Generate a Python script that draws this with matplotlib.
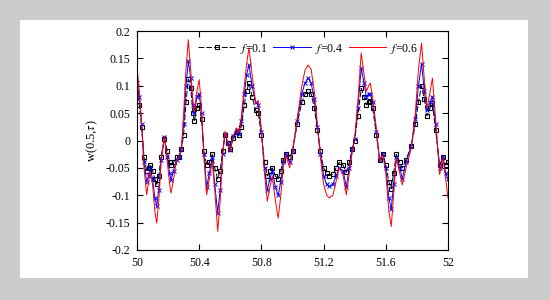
import matplotlib
matplotlib.use("Agg")
import matplotlib.pyplot as plt
from matplotlib.patches import Rectangle
import numpy as np

plt.rcParams['font.family'] = ['Liberation Serif', 'DejaVu Serif']
plt.rcParams['mathtext.fontset'] = 'stix'

# time axis and response w(0.5, tau) for three values of f
tau = [50.000, 50.015, 50.030, 50.045, 50.062, 50.075, 50.084, 50.100, 50.115, 50.127,
       50.140, 50.155, 50.176, 50.195, 50.210, 50.219, 50.235, 50.255, 50.270, 50.285,
       50.300, 50.315, 50.330, 50.345, 50.360, 50.369, 50.385, 50.400, 50.415, 50.430,
       50.448, 50.465, 50.484, 50.500, 50.519, 50.535, 50.550, 50.566, 50.583, 50.598,
       50.620, 50.641, 50.656, 50.670, 50.690, 50.705, 50.720, 50.740, 50.763, 50.780,
       50.800, 50.820, 50.838, 50.855, 50.870, 50.890, 50.908, 50.925, 50.940, 50.956,
       50.982, 51.000, 51.030, 51.060, 51.080, 51.100, 51.120, 51.140, 51.160, 51.180,
       51.200, 51.220, 51.235, 51.260, 51.280, 51.300, 51.325, 51.346, 51.365, 51.385,
       51.400, 51.420, 51.442, 51.460, 51.475, 51.490, 51.500, 51.515, 51.540, 51.560,
       51.582, 51.600, 51.620, 51.635, 51.650, 51.668, 51.690, 51.706, 51.730, 51.764,
       51.790, 51.810, 51.830, 51.848, 51.865, 51.885, 51.900, 51.920, 51.946, 51.968,
       51.985, 52.000]

w_f06 = [0.135, 0.09, 0.029, -0.05, -0.099, -0.075, -0.056, -0.08, -0.13, -0.151,
         -0.11, -0.04, 0.008, -0.04, -0.08, -0.096, -0.07, -0.035, -0.03, -0.02,
         0.05, 0.13, 0.184, 0.13, 0.07, 0.053, 0.09, 0.111, 0.06, -0.03,
         -0.099, -0.07, -0.038, -0.09, -0.166, -0.11, -0.03, 0.017, -0.005, -0.02,
         0.01, 0.023, 0.014, 0.04, 0.10, 0.14, 0.169, 0.12, 0.068, 0.072,
         0.02, -0.06, -0.111, -0.085, -0.065, -0.11, -0.142, -0.10, -0.05, -0.026,
         -0.05, -0.02, 0.04, 0.10, 0.128, 0.138, 0.13, 0.09, 0.03, -0.032,
         -0.08, -0.10, -0.105, -0.10, -0.075, -0.05, -0.062, -0.099, -0.06, -0.02,
         0.004, 0.07, 0.16, 0.12, 0.09, 0.10, 0.105, 0.08, 0.02, -0.038,
         -0.026, -0.06, -0.13, -0.157, -0.10, -0.032, -0.06, -0.081, -0.05, -0.014,
         0.05, 0.13, 0.178, 0.11, 0.059, 0.09, 0.114, 0.04, -0.062, -0.032,
         -0.07, -0.105]

w_f04 = [0.105, 0.08, 0.03, -0.04, -0.075, -0.065, -0.05, -0.07, -0.105, -0.12,
         -0.09, -0.035, 0.006, -0.03, -0.06, -0.072, -0.055, -0.035, -0.03, -0.015,
         0.03, 0.10, 0.145, 0.115, 0.065, 0.05, 0.08, 0.085, 0.05, -0.025,
         -0.085, -0.06, -0.03, -0.08, -0.132, -0.09, -0.025, 0.012, -0.005, -0.018,
         0.008, 0.02, 0.012, 0.035, 0.085, 0.12, 0.138, 0.10, 0.07, 0.065,
         0.015, -0.05, -0.09, -0.07, -0.055, -0.085, -0.10, -0.075, -0.04, -0.025,
         -0.04, -0.02, 0.035, 0.085, 0.105, 0.114, 0.105, 0.075, 0.025, -0.025,
         -0.065, -0.08, -0.084, -0.08, -0.065, -0.05, -0.055, -0.085, -0.05, -0.015,
         0.003, 0.06, 0.132, 0.105, 0.08, 0.085, 0.085, 0.07, 0.015, -0.035,
         -0.025, -0.05, -0.105, -0.126, -0.08, -0.03, -0.05, -0.07, -0.04, -0.01,
         0.04, 0.10, 0.14, 0.09, 0.055, 0.07, 0.08, 0.03, -0.05, -0.03,
         -0.06, -0.07]

w_f01 = [0.082, 0.065, 0.025, -0.03, -0.055, -0.05, -0.045, -0.055, -0.07, -0.08,
         -0.065, -0.03, 0.003, -0.02, -0.04, -0.045, -0.04, -0.03, -0.03, -0.015,
         0.01, 0.07, 0.112, 0.095, 0.05, 0.035, 0.06, 0.065, 0.04, -0.02,
         -0.045, -0.04, -0.025, -0.05, -0.07, -0.055, -0.02, 0.01, -0.005, -0.015,
         0.005, 0.015, 0.01, 0.025, 0.065, 0.09, 0.105, 0.08, 0.055, 0.05,
         0.01, -0.04, -0.065, -0.055, -0.05, -0.065, -0.07, -0.055, -0.035, -0.025,
         -0.03, -0.02, 0.03, 0.07, 0.085, 0.09, 0.085, 0.06, 0.02, -0.02,
         -0.05, -0.06, -0.064, -0.062, -0.05, -0.04, -0.045, -0.058, -0.04, -0.015,
         0.0, 0.045, 0.095, 0.08, 0.065, 0.07, 0.072, 0.06, 0.01, -0.035,
         -0.025, -0.045, -0.075, -0.088, -0.06, -0.025, -0.04, -0.05, -0.035, -0.01,
         0.03, 0.07, 0.10, 0.075, 0.045, 0.06, 0.068, 0.02, -0.045, -0.03,
         -0.045, -0.04]

x_ticks = [50, 50.4, 50.8, 51.2, 51.6, 52]
x_tick_labels = ['50', '50.4', '50.8', '51.2', '51.6', '52']
y_ticks = [-0.2, -0.15, -0.1, -0.05, 0, 0.05, 0.1, 0.15, 0.2]
y_tick_labels = ['-0.2', '-0.15', '-0.1', '-0.05', '0', '0.05', '0.1', '0.15', '0.2']

fig = plt.figure(figsize=(5.5, 3.0), dpi=100)
fig.patch.set_facecolor('#cccccc')
# white card behind the chart
fig.patches.append(Rectangle((20 / 550, 22 / 300), 508 / 550, 258 / 300,
                             transform=fig.transFigure, facecolor='white',
                             edgecolor='none', zorder=-10))

ax = fig.add_axes([137 / 550, 50 / 300, 311 / 550, 219 / 300])
ax.set_zorder(5)

ax.plot(tau, w_f01, color='black', lw=0.7, ls='--', dashes=(6, 2), marker='s',
        markersize=3.5, markerfacecolor='none', markeredgewidth=0.8, label=r'$f$=0.1')
ax.plot(tau, w_f04, color='blue', lw=0.7, marker='x', markersize=3.5,
        markeredgewidth=0.7, label=r'$f$=0.4')
ax.plot(tau, w_f06, color='red', lw=0.7, label=r'$f$=0.6')

ax.set_xlim(50, 52)
ax.set_ylim(-0.2, 0.2)
ax.set_xticks(x_ticks)
ax.set_xticklabels(x_tick_labels)
ax.set_yticks(y_ticks)
ax.set_yticklabels(y_tick_labels)
ax.tick_params(direction='in', top=True, right=True, labelsize=8.5, length=4, pad=5)
ax.set_ylabel(r'w(0.5,$\tau$)', fontsize=9)

leg = ax.legend(loc='upper center', bbox_to_anchor=(0.55, 1.0), ncol=3, frameon=False,
                fontsize=8.5, handlelength=3.2, columnspacing=0.5, handletextpad=0.3)

fig.savefig('out.png', dpi=100, facecolor=fig.get_facecolor())
